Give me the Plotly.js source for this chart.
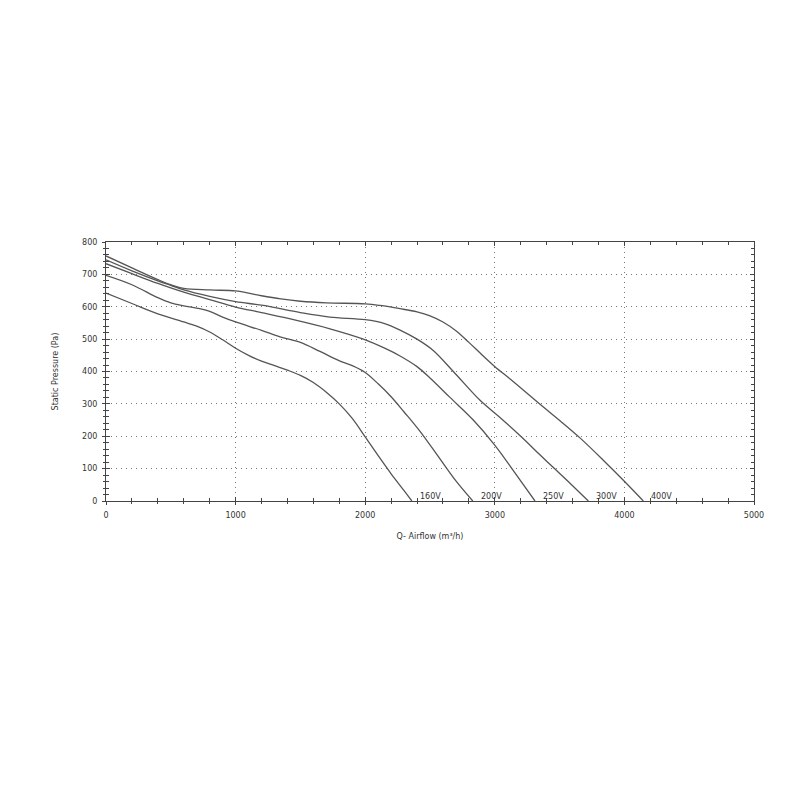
<!DOCTYPE html>
<html>
<head>
<meta charset="utf-8">
<script src="https://cdn.plot.ly/plotly-3.0.1.min.js"></script>
<style>html,body{margin:0;padding:0;background:#fff;}#chart{width:800px;height:800px;}</style>
</head>
<body>
<div id="chart"></div>
<script>
// Series data: airflow (m³/h) vs static pressure (Pa)
const seriesNames = ["160V", "200V", "250V", "300V", "400V"];

const x160 = [0, 200, 400, 600, 700, 800, 900, 1000, 1100, 1200, 1300, 1400, 1500, 1600, 1700, 1800, 1900, 2000, 2100, 2200, 2300, 2360];
const y160 = [642, 610, 578, 553, 540, 522, 498, 472, 450, 432, 418, 404, 388, 366, 336, 300, 255, 198, 140, 84, 32, 0];

const x200 = [0, 200, 400, 500, 600, 700, 800, 900, 1000, 1200, 1343, 1500, 1651, 1806, 1900, 2000, 2100, 2200, 2300, 2423, 2577, 2700, 2830];
const y200 = [697, 668, 628, 612, 603, 596, 586, 568, 553, 527, 507, 490, 462, 432, 418, 397, 362, 322, 275, 215, 130, 62, 0];

const x250 = [0, 200, 400, 600, 800, 1000, 1200, 1471, 1728, 1986, 2150, 2269, 2400, 2500, 2654, 2834, 3001, 3150, 3310];
const y250 = [733, 702, 672, 645, 622, 599, 582, 558, 532, 500, 472, 448, 415, 380, 320, 250, 172, 90, 0];

const x300 = [0, 200, 400, 500, 600, 800, 1000, 1214, 1500, 1728, 2000, 2150, 2269, 2400, 2525, 2680, 2886, 3040, 3200, 3350, 3450, 3580, 3722];
const y300 = [745, 711, 680, 666, 652, 632, 616, 604, 582, 568, 560, 548, 528, 500, 465, 400, 311, 258, 200, 142, 104, 55, 0];

const x400 = [0, 200, 400, 500, 600, 800, 1000, 1100, 1200, 1350, 1500, 1700, 2000, 2114, 2269, 2400, 2500, 2600, 2700, 2800, 2900, 3001, 3130, 3349, 3503, 3657, 3837, 3992, 4146];
const y400 = [757, 720, 684, 668, 657, 652, 649, 642, 634, 624, 617, 612, 609, 604, 594, 584, 572, 553, 526, 490, 452, 415, 373, 299, 248, 195, 126, 64, 0];

const xTitle = "Q- Airflow (m³/h)";
const yTitle = "Static Pressure (Pa)";

const allX = [x160, x200, x250, x300, x400];
const allY = [y160, y200, y250, y300, y400];

const lineColor = "#555555";
const textColor = "#333333";
const fontFam = "DejaVu Sans, sans-serif";

const traces = allX.map((xs, i) => ({
  type: "scatter",
  mode: "lines",
  name: seriesNames[i],
  x: xs,
  y: allY[i],
  line: {color: lineColor, width: 1.3, shape: "spline", smoothing: 1.0},
  hoverinfo: "x+y+name"
}));
// dummy trace to activate the overlay axes (crossing tick marks)
traces.push({type: "scatter", mode: "lines", x: [], y: [], xaxis: "x2", yaxis: "y2", showlegend: false, hoverinfo: "skip"});

const annotations = allX.map((xs, i) => ({
  x: xs[xs.length - 1] + 45,
  y: 15,
  xref: "x", yref: "y",
  text: seriesNames[i],
  showarrow: false,
  xanchor: "left",
  yanchor: "middle",
  font: {family: fontFam, size: 8, color: textColor}
}));

const layout = {
  width: 800, height: 800,
  paper_bgcolor: "#ffffff",
  plot_bgcolor: "#ffffff",
  showlegend: false,
  margin: {l: 106, r: 46, t: 242, b: 299},
  font: {family: fontFam, size: 8, color: textColor},
  xaxis: {
    range: [0, 5000], dtick: 1000, tick0: 0,
    showline: true, linecolor: "#444", linewidth: 1, mirror: "allticks",
    ticks: "inside", ticklen: 4, tickcolor: "#444",
    showgrid: true, gridcolor: "#777", griddash: "1px,4px", gridwidth: 1,
    zeroline: false,
    minor: {dtick: 200, ticks: "inside", ticklen: 3, tickcolor: "#444", showgrid: false},
    tickfont: {family: fontFam, size: 8, color: textColor},
    ticklabelstandoff: 6,
    title: {text: xTitle, font: {family: fontFam, size: 8, color: textColor}, standoff: 14},
    fixedrange: true
  },
  yaxis: {
    range: [0, 800], dtick: 100, tick0: 0,
    showline: true, linecolor: "#444", linewidth: 1, mirror: "allticks",
    ticks: "inside", ticklen: 4, tickcolor: "#444",
    showgrid: true, gridcolor: "#777", griddash: "1px,4px", gridwidth: 1,
    zeroline: false,
    minor: {dtick: 20, ticks: "inside", ticklen: 3, tickcolor: "#444", showgrid: false},
    tickfont: {family: fontFam, size: 8, color: textColor},
    ticklabelstandoff: 6,
    title: {text: yTitle, font: {family: fontFam, size: 8, color: textColor}, standoff: 22},
    fixedrange: true
  },
  xaxis2: {
    overlaying: "x", anchor: "y", side: "bottom",
    range: [0, 5000], dtick: 1000, tick0: 0,
    showline: false, showgrid: false, zeroline: false, showticklabels: false,
    ticks: "outside", ticklen: 3, tickcolor: "#444",
    minor: {dtick: 200, ticks: "outside", ticklen: 2, tickcolor: "#444", showgrid: false},
    fixedrange: true
  },
  yaxis2: {
    overlaying: "y", anchor: "x", side: "left",
    range: [0, 800], dtick: 100, tick0: 0,
    showline: false, showgrid: false, zeroline: false, showticklabels: false,
    ticks: "outside", ticklen: 3, tickcolor: "#444",
    minor: {dtick: 20, ticks: "outside", ticklen: 2, tickcolor: "#444", showgrid: false},
    fixedrange: true
  },
  annotations: annotations
};

Plotly.newPlot("chart", traces, layout, {staticPlot: true, displayModeBar: false});
</script>
</body>
</html>
